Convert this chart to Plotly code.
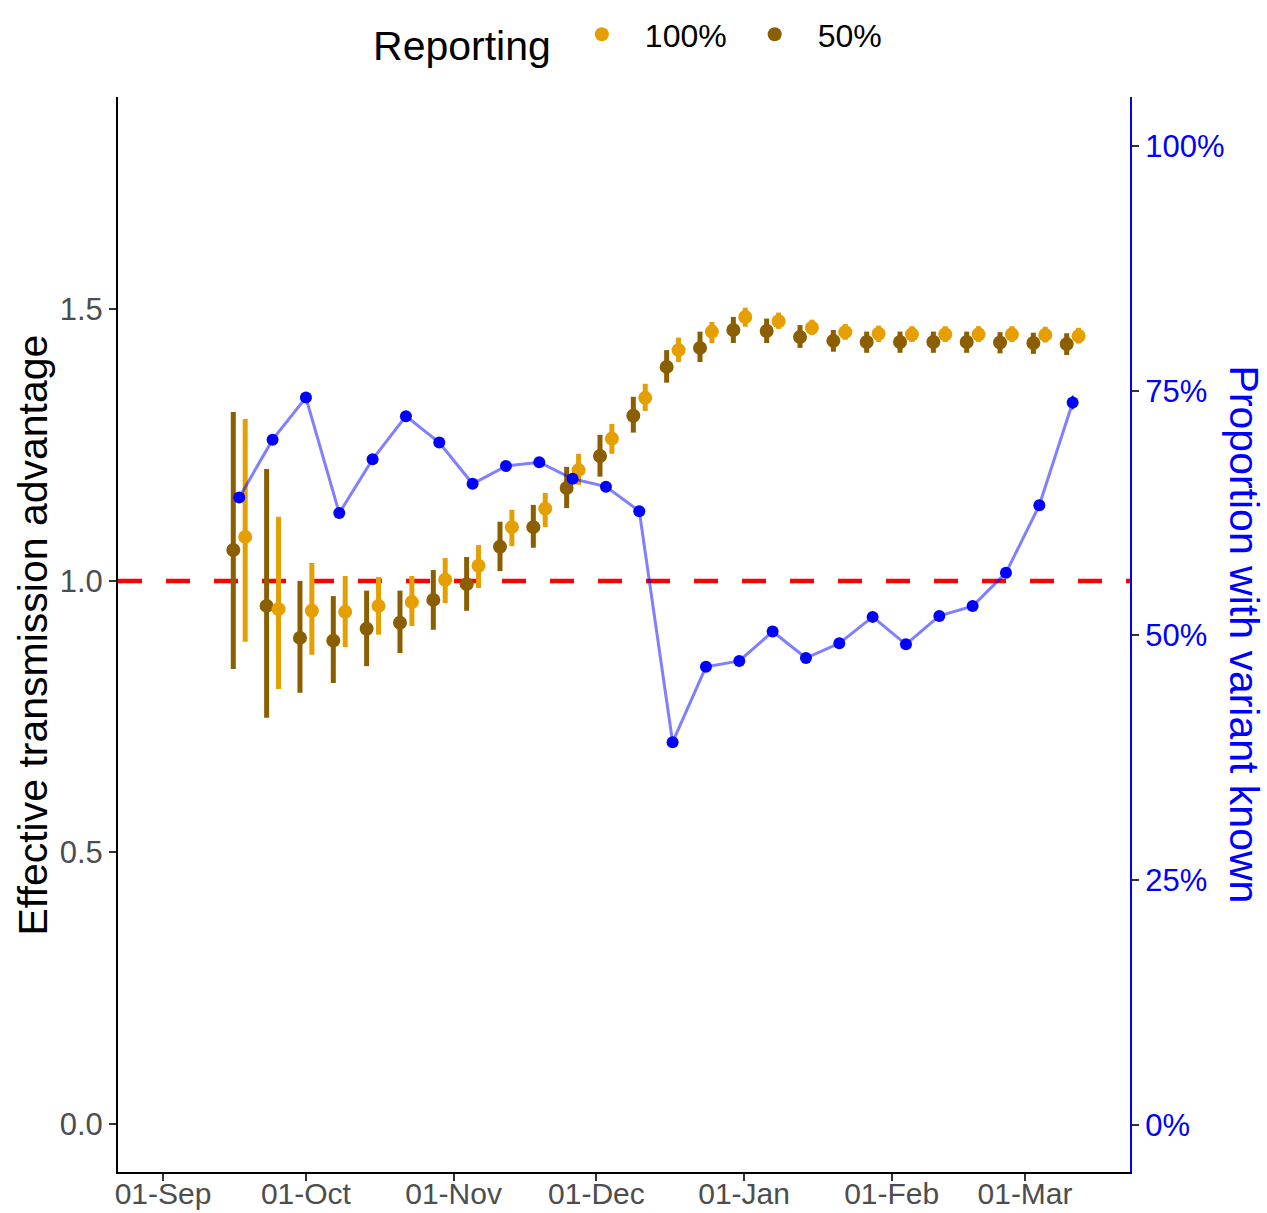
import pandas as pd
import plotly.graph_objects as go

# ---- data ----
week_dates = ["2020-09-17", "2020-09-24", "2020-10-01", "2020-10-08", "2020-10-15",
              "2020-10-22", "2020-10-29", "2020-11-05", "2020-11-12", "2020-11-19",
              "2020-11-26", "2020-12-03", "2020-12-10", "2020-12-17", "2020-12-24",
              "2020-12-31", "2021-01-07", "2021-01-14", "2021-01-21", "2021-01-28",
              "2021-02-04", "2021-02-11", "2021-02-18", "2021-02-25", "2021-03-04",
              "2021-03-11"]

adv_100 = [1.081, 0.948, 0.945, 0.943, 0.954, 0.961, 1.002, 1.028, 1.099, 1.133,
           1.204, 1.262, 1.337, 1.425, 1.459, 1.486, 1.478, 1.466, 1.458, 1.455,
           1.454, 1.454, 1.454, 1.454, 1.453, 1.451]
lo_100 = [0.888, 0.801, 0.864, 0.878, 0.901, 0.917, 0.959, 0.987, 1.064, 1.099,
          1.177, 1.234, 1.313, 1.403, 1.438, 1.468, 1.464, 1.453, 1.444, 1.440,
          1.440, 1.440, 1.440, 1.440, 1.439, 1.437]
hi_100 = [1.298, 1.118, 1.033, 1.009, 1.007, 1.009, 1.042, 1.066, 1.131, 1.162,
          1.234, 1.289, 1.363, 1.448, 1.477, 1.503, 1.494, 1.481, 1.473, 1.470,
          1.469, 1.469, 1.469, 1.469, 1.468, 1.466]

adv_50 = [1.057, 0.954, 0.895, 0.890, 0.912, 0.923, 0.965, 0.994, 1.063, 1.099,
          1.171, 1.230, 1.304, 1.394, 1.429, 1.462, 1.460, 1.449, 1.442, 1.440,
          1.440, 1.440, 1.440, 1.439, 1.438, 1.436]
lo_50 = [0.838, 0.748, 0.794, 0.812, 0.843, 0.867, 0.910, 0.945, 1.018, 1.061,
         1.134, 1.192, 1.273, 1.365, 1.403, 1.438, 1.438, 1.429, 1.422, 1.420,
         1.420, 1.420, 1.420, 1.419, 1.418, 1.416]
hi_50 = [1.311, 1.206, 1.000, 0.972, 0.982, 0.982, 1.020, 1.044, 1.109, 1.140,
         1.210, 1.269, 1.339, 1.425, 1.459, 1.486, 1.483, 1.471, 1.462, 1.459,
         1.459, 1.459, 1.459, 1.458, 1.457, 1.456]

prop_known = [64.1, 70.0, 74.3, 62.5, 68.0, 72.4, 69.7, 65.5, 67.3, 67.7,
              66.0, 65.2, 62.7, 39.1, 46.8, 47.4, 50.4, 47.7, 49.2, 51.9,
              49.1, 52.0, 53.0, 56.4, 63.3, 73.8]
prop_err = [0.3, 0.3, 0.3, 0.3, 0.3, 0.3, 0.3, 0.3, 0.3, 0.3,
            0.3, 0.3, 0.3, 0.3, 0.3, 0.3, 0.3, 0.3, 0.3, 0.3,
            0.3, 0.3, 0.3, 0.3, 0.4, 0.7]

month_ticks = ["2020-09-01", "2020-10-01", "2020-11-01", "2020-12-01",
               "2021-01-01", "2021-02-01", "2021-03-01"]

# ---- figure ----
FONT = "Liberation Sans"
C100 = "#E69F00"
C50 = "#8B5E00"
dates = pd.to_datetime(week_dates)
dodge = pd.Timedelta(hours=30)

fig = go.Figure()

fig.add_trace(go.Scatter(
    x=dates - dodge, y=adv_50, mode="markers", name="50%",
    marker=dict(color=C50, size=14, line=dict(width=0)),
    error_y=dict(type="data", symmetric=False,
                 array=[h - v for h, v in zip(hi_50, adv_50)],
                 arrayminus=[v - l for v, l in zip(adv_50, lo_50)],
                 color=C50, thickness=5, width=0),
))
fig.add_trace(go.Scatter(
    x=dates + dodge, y=adv_100, mode="markers", name="100%",
    marker=dict(color=C100, size=14, line=dict(width=0)),
    error_y=dict(type="data", symmetric=False,
                 array=[h - v for h, v in zip(hi_100, adv_100)],
                 arrayminus=[v - l for v, l in zip(adv_100, lo_100)],
                 color=C100, thickness=5, width=0),
))
fig.add_trace(go.Scatter(
    x=dates, y=prop_known, mode="lines+markers", yaxis="y2", showlegend=False,
    line=dict(color="rgba(0,0,255,0.5)", width=3),
    marker=dict(color="#0000FF", size=12, line=dict(width=0)),
    error_y=dict(type="data", array=prop_err, color="#0000FF", thickness=2, width=0),
))

fig.add_shape(type="line", xref="paper", yref="y", x0=0, x1=1, y0=1, y1=1,
              line=dict(color="#FF0000", width=4.5, dash="24px,24px"), layer="below")

fig.update_layout(
    width=1267, height=1213,
    margin=dict(l=118, r=137, t=97, b=41, autoexpand=False),
    paper_bgcolor="white", plot_bgcolor="white",
    font=dict(family=FONT, color="black"),
    showlegend=True,
    legend=dict(orientation="h", x=0.505, xanchor="center", y=1.054, yanchor="middle",
                traceorder="reversed",
                title=dict(text="Reporting", font=dict(size=41, family=FONT)),
                font=dict(size=32, family=FONT), itemwidth=76),
    xaxis=dict(type="date", range=["2020-08-22 13:00", "2021-03-23 01:00"],
               tickvals=month_ticks, tickformat="%d-%b",
               tickfont=dict(size=30, color="#4D4D4D", family=FONT),
               ticklabelstandoff=-13,
               showgrid=False, zeroline=False, showline=True, linecolor="black",
               linewidth=2, ticks="outside", ticklen=7, tickwidth=2, tickcolor="#333333"),
    yaxis=dict(range=[-0.0884, 1.891], tickvals=[0, 0.5, 1.0, 1.5], tickformat=".1f",
               tickfont=dict(size=31, color="#4D4D4D", family=FONT),
               showgrid=False, zeroline=False, showline=True, linecolor="black",
               linewidth=2, ticks="outside", ticklen=7, tickwidth=2, tickcolor="#333333"),
    yaxis2=dict(overlaying="y", side="right", range=[-4.8, 105.0],
                tickvals=[0, 25, 50, 75, 100], ticktext=["0%", "25%", "50%", "75%", "100%"],
                tickfont=dict(size=31, color="#0000FF", family=FONT),
                showgrid=False, zeroline=False, showline=True, linecolor="#0000FF",
                linewidth=2, ticks="outside", ticklen=7, tickwidth=2, tickcolor="#333333"),
    annotations=[
        dict(text="Effective transmission advantage", xref="paper", yref="paper",
             x=-0.084, y=0.5, xanchor="center", yanchor="middle", textangle=-90,
             showarrow=False, font=dict(size=41, color="black", family=FONT)),
        dict(text="Proportion with variant known", xref="paper", yref="paper",
             x=1.1136, y=0.5, xanchor="center", yanchor="middle", textangle=90,
             showarrow=False, font=dict(size=41, color="#0000FF", family=FONT)),
    ],
)

fig.write_html("out.html")
